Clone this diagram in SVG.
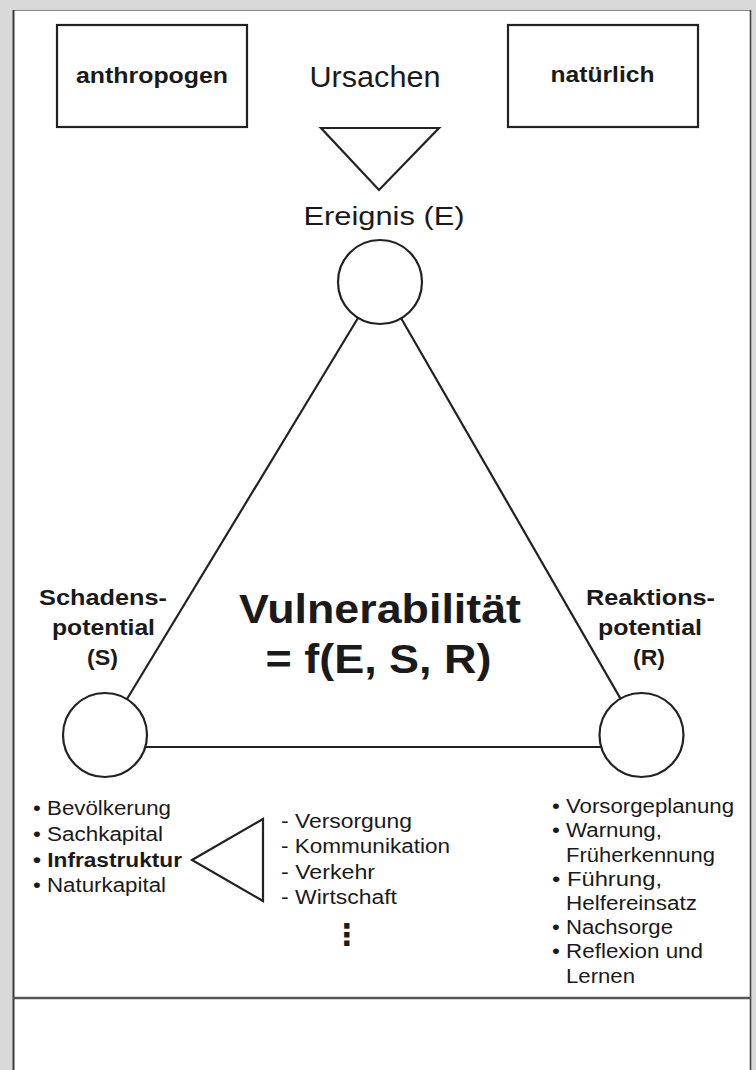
<svg xmlns="http://www.w3.org/2000/svg" width="756" height="1070" viewBox="0 0 756 1070">
<style>
.t{font-family:"Liberation Sans",Arial,sans-serif;fill:#1a1a1a}
.b{font-weight:bold}
.s{fill:none;stroke:#222;stroke-width:2.2}
.c{fill:#fff;stroke:#222;stroke-width:2.2}
.l{font-size:20px}
.h{font-size:22px;font-weight:bold;text-anchor:middle}
</style>
<rect x="0" y="0" width="756" height="1070" fill="#d9d9d9"/>
<rect x="13" y="10" width="738" height="1060" fill="#fff"/>
<line x1="13" y1="10.5" x2="751" y2="10.5" stroke="#888" stroke-width="1"/>
<line x1="13.5" y1="10" x2="13.5" y2="1070" stroke="#3a3a3a" stroke-width="2"/>
<line x1="750.5" y1="10" x2="750.5" y2="1070" stroke="#444" stroke-width="1.6"/>
<line x1="13" y1="998" x2="751" y2="998" stroke="#555" stroke-width="2.5"/>

<g id="connectors">
<line class="s" x1="358" y1="318" x2="127" y2="699"/>
<line class="s" x1="401" y1="318" x2="620.5" y2="698.6"/>
<line class="s" x1="145" y1="747" x2="601" y2="747"/>
</g>

<g id="anthropogen">
<rect class="s" x="57" y="25" width="190" height="102"/>
<text class="t b" x="152" y="83" font-size="22" text-anchor="middle" textLength="152" lengthAdjust="spacingAndGlyphs">anthropogen</text>
</g>
<g id="natuerlich">
<rect class="s" x="508" y="25" width="190" height="102"/>
<text class="t b" x="602.5" y="82" font-size="22" text-anchor="middle" textLength="104" lengthAdjust="spacingAndGlyphs">natürlich</text>
</g>
<g id="ursachen">
<text class="t" x="375" y="87" font-size="30" text-anchor="middle" textLength="131" lengthAdjust="spacingAndGlyphs">Ursachen</text>
<polygon class="c" points="321,128 439,128 379,190"/>
</g>

<g id="ereignis">
<text class="t" x="384" y="225" font-size="26" text-anchor="middle" textLength="161" lengthAdjust="spacingAndGlyphs">Ereignis (E)</text>
<circle class="c" cx="380" cy="282" r="42"/>
</g>

<g id="vulnerabilitaet">
<text class="t b" x="380" y="623" font-size="40" text-anchor="middle" textLength="282" lengthAdjust="spacingAndGlyphs">Vulnerabilität</text>
<text class="t b" x="378.5" y="673" font-size="40" text-anchor="middle" textLength="226" lengthAdjust="spacingAndGlyphs">= f(E, S, R)</text>
</g>

<g id="schadenspotential">
<text class="t h" x="103" y="605" textLength="128" lengthAdjust="spacingAndGlyphs">Schadens-</text>
<text class="t h" x="103.5" y="635" textLength="103" lengthAdjust="spacingAndGlyphs">potential</text>
<text class="t h" x="102.5" y="665" textLength="31" lengthAdjust="spacingAndGlyphs">(S)</text>
<circle class="c" cx="105" cy="735" r="42"/>
</g>

<g id="reaktionspotential">
<text class="t h" x="650.5" y="605" textLength="129" lengthAdjust="spacingAndGlyphs">Reaktions-</text>
<text class="t h" x="650" y="635" textLength="104" lengthAdjust="spacingAndGlyphs">potential</text>
<text class="t h" x="649" y="665" textLength="32" lengthAdjust="spacingAndGlyphs">(R)</text>
<circle class="c" cx="641.5" cy="735" r="42"/>
</g>

<g id="schaden-liste">
<text class="t l" x="33" y="815" textLength="138" lengthAdjust="spacingAndGlyphs">• Bevölkerung</text>
<text class="t l" x="33" y="841" textLength="130" lengthAdjust="spacingAndGlyphs">• Sachkapital</text>
<text class="t l b" x="33" y="867" textLength="149" lengthAdjust="spacingAndGlyphs">• Infrastruktur</text>
<text class="t l" x="33" y="892" textLength="133" lengthAdjust="spacingAndGlyphs">• Naturkapital</text>
</g>

<g id="infrastruktur-pfeil">
<polygon class="c" points="192,860 263,819 263,901"/>
</g>

<g id="infrastruktur-liste">
<text class="t l" x="281" y="828" textLength="131" lengthAdjust="spacingAndGlyphs">- Versorgung</text>
<text class="t l" x="281" y="853" textLength="169" lengthAdjust="spacingAndGlyphs">- Kommunikation</text>
<text class="t l" x="281" y="879" textLength="94" lengthAdjust="spacingAndGlyphs">- Verkehr</text>
<text class="t l" x="281" y="904" textLength="116" lengthAdjust="spacingAndGlyphs">- Wirtschaft</text>
<text class="t" x="347" y="945" font-size="30" font-weight="bold" text-anchor="middle" style="font-family:'DejaVu Sans',sans-serif">⋮</text>
</g>

<g id="reaktion-liste">
<text class="t l" x="552" y="813" textLength="182" lengthAdjust="spacingAndGlyphs">• Vorsorgeplanung</text>
<text class="t l" x="552" y="837" textLength="110" lengthAdjust="spacingAndGlyphs">• Warnung,</text>
<text class="t l" x="566" y="862" textLength="149" lengthAdjust="spacingAndGlyphs">Früherkennung</text>
<text class="t l" x="552" y="886" textLength="110" lengthAdjust="spacingAndGlyphs">• Führung,</text>
<text class="t l" x="566" y="910" textLength="131" lengthAdjust="spacingAndGlyphs">Helfereinsatz</text>
<text class="t l" x="552" y="934" textLength="121" lengthAdjust="spacingAndGlyphs">• Nachsorge</text>
<text class="t l" x="552" y="958" textLength="151" lengthAdjust="spacingAndGlyphs">• Reflexion und</text>
<text class="t l" x="566" y="983" textLength="69" lengthAdjust="spacingAndGlyphs">Lernen</text>
</g>
</svg>
